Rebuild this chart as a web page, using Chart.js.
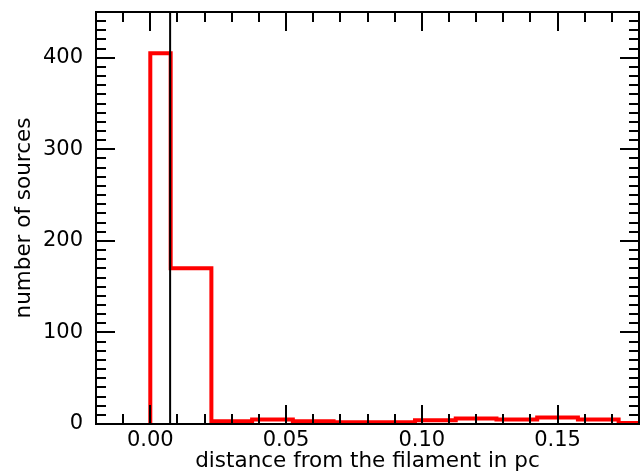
<!DOCTYPE html>
<html>
<head>
<meta charset="utf-8">
<script src="https://cdn.jsdelivr.net/npm/chart.js@4"></script>
<style>
  body { margin: 0; background: #fff; }
  canvas { display: block; }
</style>
</head>
<body>
<canvas id="histChart" width="640" height="473"></canvas>
<script>
// histogram bins (pc) and counts
const binEdges = [0, 0.0075, 0.0225, 0.0375, 0.0525, 0.0675, 0.0825, 0.0975, 0.1125, 0.1275, 0.1425, 0.1575, 0.1725, 0.1875];
const binCounts = [405, 170, 3, 5, 3, 2, 2, 4, 6, 5, 7, 5, 1];
const filamentPos = 0.0073;

const xRange = [-0.02, 0.18];
const yRange = [0, 450];
const xTicks = [0, 0.05, 0.10, 0.15];
const yTicks = [0, 100, 200, 300, 400];
const xMinorStep = 0.01;
const yMinorStep = 10;

const FONT = 'DejaVu Sans';
const TICK_SIZE = 21;
const TITLE_SIZE = 21.5;

// outline of a step histogram
function stepPoints() {
    const pts = [{ x: binEdges[0], y: 0 }];
    binCounts.forEach((c, i) => pts.push({ x: binEdges[i], y: c }));
    const last = binEdges[binEdges.length - 1];
    pts.push({ x: last, y: binCounts[binCounts.length - 1] });
    pts.push({ x: last, y: 0 });
    return pts;
}

function isMajor(v, majors) {
    return majors.some(m => Math.abs(m - v) < 1e-9);
}

// frame + inward ticks on all four sides, matplotlib style
const axesFrame = {
    id: 'axesFrame',
    afterDatasetsDraw(chart) {
        const { ctx, chartArea: a, scales: { x, y } } = chart;
        const major = 19, minor = 10;
        ctx.save();
        ctx.strokeStyle = '#000';
        ctx.lineWidth = 2;
        ctx.beginPath();

        const nx0 = Math.ceil(xRange[0] / xMinorStep - 1e-6);
        const nx1 = Math.floor(xRange[1] / xMinorStep + 1e-6);
        for (let n = nx0; n <= nx1; n++) {
            const v = n * xMinorStep;
            const px = Math.round(x.getPixelForValue(v));
            const len = isMajor(v, [-0.05, 0, 0.05, 0.10, 0.15, 0.20]) ? major : minor;
            ctx.moveTo(px, a.bottom); ctx.lineTo(px, a.bottom - len);
            ctx.moveTo(px, a.top); ctx.lineTo(px, a.top + len);
        }

        const ny0 = Math.ceil(yRange[0] / yMinorStep);
        const ny1 = Math.floor(yRange[1] / yMinorStep);
        for (let n = ny0; n <= ny1; n++) {
            const v = n * yMinorStep;
            const py = Math.round(y.getPixelForValue(v));
            const len = v % 100 === 0 ? major : minor;
            ctx.moveTo(a.left, py); ctx.lineTo(a.left + len, py);
            ctx.moveTo(a.right, py); ctx.lineTo(a.right - len, py);
        }
        ctx.stroke();

        ctx.strokeRect(a.left, a.top, a.right - a.left, a.bottom - a.top);
        ctx.restore();
    }
};

new Chart(document.getElementById('histChart'), {
    type: 'line',
    data: {
        datasets: [
            {
                label: 'filament',
                data: [{ x: filamentPos, y: yRange[0] }, { x: filamentPos, y: yRange[1] }],
                borderColor: '#000',
                borderWidth: 2,
                pointRadius: 0
            },
            {
                label: 'sources',
                data: stepPoints(),
                stepped: 'before',   // horizontal first, then vertical
                borderColor: '#ff0000',
                borderWidth: 4,
                pointRadius: 0,
                fill: false
            }
        ]
    },
    options: {
        responsive: false,
        animation: false,
        layout: { padding: { top: 12, right: 1, left: 0, bottom: 0 } },
        plugins: {
            legend: { display: false },
            tooltip: { enabled: false }
        },
        scales: {
            x: {
                type: 'linear',
                min: xRange[0],
                max: xRange[1],
                grid: { display: false, drawTicks: false },
                border: { display: false },
                afterBuildTicks: s => { s.ticks = xTicks.map(v => ({ value: v })); },
                afterFit: s => { s.height = 49; s.paddingLeft = 0; s.paddingRight = 0; },
                ticks: {
                    color: '#000',
                    padding: 4,
                    maxRotation: 0,
                    font: { family: FONT, size: TICK_SIZE },
                    callback: v => v.toFixed(2)
                },
                title: {
                    display: true,
                    text: 'distance from the filament in pc',
                    color: '#000',
                    font: { family: FONT, size: TITLE_SIZE },
                    padding: { top: 0, bottom: -1 }
                }
            },
            y: {
                type: 'linear',
                min: yRange[0],
                max: yRange[1],
                grid: { display: false, drawTicks: false },
                border: { display: false },
                afterBuildTicks: s => { s.ticks = yTicks.map(v => ({ value: v })); },
                afterFit: s => { s.width = 96; s.paddingTop = 0; s.paddingBottom = 0; },
                ticks: {
                    color: '#000',
                    padding: 13,
                    font: { family: FONT, size: TICK_SIZE }
                },
                title: {
                    display: true,
                    text: 'number of sources',
                    color: '#000',
                    font: { family: FONT, size: TITLE_SIZE },
                    padding: { top: 12, bottom: 0 }
                }
            }
        }
    },
    plugins: [axesFrame]
});
</script>
</body>
</html>
